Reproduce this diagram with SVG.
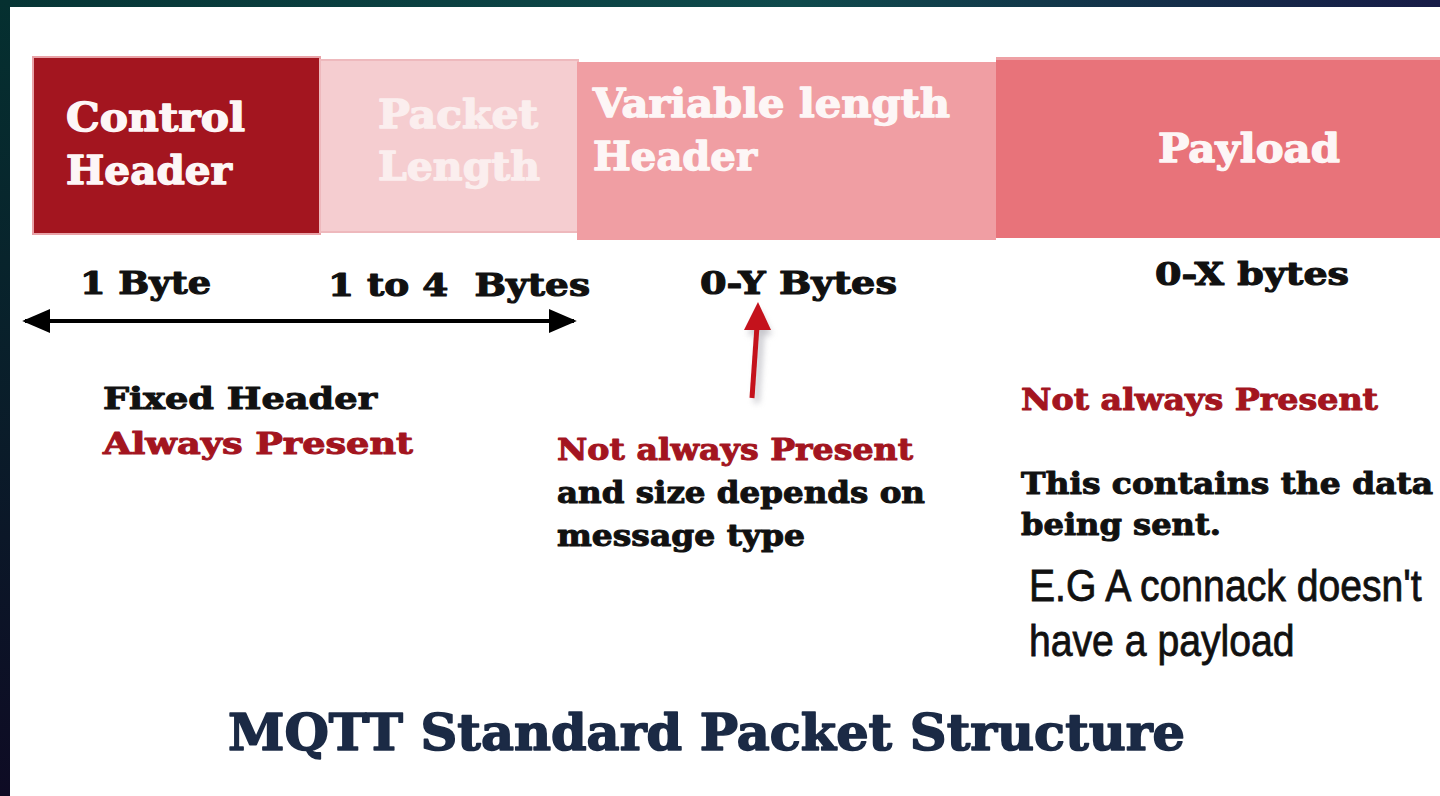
<svg xmlns="http://www.w3.org/2000/svg" width="1440" height="796" viewBox="0 0 1440 796">
  <defs>
    <linearGradient id="frameTop" x1="0" y1="0" x2="1" y2="0">
      <stop offset="0" stop-color="#063535"/>
      <stop offset="0.55" stop-color="#0f4a4c"/>
      <stop offset="1" stop-color="#171b47"/>
    </linearGradient>
    <linearGradient id="frameLeft" x1="0" y1="0" x2="0" y2="1">
      <stop offset="0" stop-color="#053030"/>
      <stop offset="1" stop-color="#0e0b24"/>
    </linearGradient>
    <marker id="headBlack" viewBox="0 0 20 20" refX="18" refY="10" markerWidth="7" markerHeight="6" markerUnits="strokeWidth" orient="auto-start-reverse" preserveAspectRatio="none">
      <path d="M0,0 L20,10 L0,20 Z" fill="#000"/>
    </marker>
    <filter id="softShadow" x="-50%" y="-20%" width="200%" height="140%">
      <feGaussianBlur stdDeviation="3"/>
    </filter>
    <style>
      .seg { stroke-width: 2; }
      .serif { font-family: "DejaVu Serif", "Liberation Serif", serif; font-weight: bold; stroke-linejoin: round; }
      .label { fill: #fdf6f6; stroke: #fdf6f6; stroke-width: 1.4px; font-size: 40px; }
      .faint { fill: #fbeeee; stroke: #fbeeee; }
      .size { fill: #111; stroke: #111; stroke-width: 1.1px; font-size: 31px; }
      .note { fill: #111; stroke: #111; stroke-width: 1px; font-size: 29px; }
      .warn { fill: #a3151f; stroke: #a3151f; }
      .plain { font-family: "Liberation Sans", Arial, sans-serif; fill: #111; stroke: #111; stroke-width: 0.8px; font-size: 44px; }
      .title { fill: #1b2a45; stroke: #1b2a45; stroke-width: 1.6px; font-size: 50px; }
    </style>
  </defs>

  <!-- slide background and frame -->
  <rect x="0" y="0" width="1440" height="796" fill="#ffffff"/>
  <rect x="0" y="0" width="1440" height="7" fill="url(#frameTop)"/>
  <rect x="0" y="0" width="10" height="796" fill="url(#frameLeft)"/>

  <!-- packet fields -->
  <g id="control-header">
    <rect class="seg" x="33" y="57" width="287" height="177" fill="#a3151f" stroke="#e9a3a8"/>
    <text class="serif label" x="66" y="131" textLength="179" lengthAdjust="spacingAndGlyphs">Control</text>
    <text class="serif label" x="66" y="184" textLength="166" lengthAdjust="spacingAndGlyphs">Header</text>
  </g>

  <g id="packet-length">
    <rect class="seg" x="320" y="60" width="258" height="172" fill="#f5cdd0" stroke="#eeb9bd"/>
    <text class="serif label faint" x="378" y="128" textLength="160" lengthAdjust="spacingAndGlyphs">Packet</text>
    <text class="serif label faint" x="378" y="180" textLength="162" lengthAdjust="spacingAndGlyphs">Length</text>
  </g>

  <g id="variable-header">
    <rect x="577" y="62" width="419" height="178" fill="#f09ea3"/>
    <text class="serif label" x="593" y="117" textLength="357" lengthAdjust="spacingAndGlyphs">Variable length</text>
    <text class="serif label" x="593" y="170" textLength="164" lengthAdjust="spacingAndGlyphs">Header</text>
  </g>

  <g id="payload">
    <rect x="996" y="57" width="444" height="181" fill="#e8737a"/>
    <rect x="996" y="57" width="444" height="3" fill="#eea0a4"/>
    <text class="serif label" x="1158" y="162" textLength="182" lengthAdjust="spacingAndGlyphs">Payload</text>
  </g>

  <!-- field sizes -->
  <g id="sizes">
    <text class="serif size" x="80" y="294" textLength="131" lengthAdjust="spacingAndGlyphs">1 Byte</text>
    <text class="serif size" x="328" y="296" textLength="262" lengthAdjust="spacingAndGlyphs" xml:space="preserve">1 to 4  Bytes</text>
    <text class="serif size" x="700" y="294" textLength="197" lengthAdjust="spacingAndGlyphs">0-Y Bytes</text>
    <text class="serif size" x="1155" y="285" textLength="194" lengthAdjust="spacingAndGlyphs">0-X bytes</text>
  </g>

  <!-- connectors -->
  <g id="connectors">
    <line x1="25" y1="321" x2="574" y2="321" stroke="#000" stroke-width="4" marker-start="url(#headBlack)" marker-end="url(#headBlack)"/>
    <g id="pointer">
      <path d="M759,309 L772,335 L764,335 L759,403 L754,403 L757,335 L748,335 Z" fill="#9a9aa4" opacity="0.55" filter="url(#softShadow)"/>
      <line x1="752" y1="398" x2="757" y2="326" stroke="#c4121c" stroke-width="5"/>
      <path d="M758,302 L771,330 L744,330 Z" fill="#c4121c"/>
    </g>
  </g>

  <!-- descriptions -->
  <g id="fixed-header-note">
    <text class="serif note" x="103" y="409" textLength="274" lengthAdjust="spacingAndGlyphs">Fixed Header</text>
    <text class="serif note warn" x="103" y="454" textLength="310" lengthAdjust="spacingAndGlyphs">Always Present</text>
  </g>

  <g id="variable-header-note">
    <text class="serif note warn" x="557" y="460" textLength="356" lengthAdjust="spacingAndGlyphs">Not always Present</text>
    <text class="serif note" x="557" y="503" textLength="368" lengthAdjust="spacingAndGlyphs">and size depends on</text>
    <text class="serif note" x="557" y="546" textLength="248" lengthAdjust="spacingAndGlyphs">message type</text>
  </g>

  <g id="payload-note">
    <text class="serif note warn" x="1021" y="410" textLength="357" lengthAdjust="spacingAndGlyphs">Not always Present</text>
    <text class="serif note" x="1021" y="494" textLength="412" lengthAdjust="spacingAndGlyphs">This contains the data</text>
    <text class="serif note" x="1021" y="535" textLength="200" lengthAdjust="spacingAndGlyphs">being sent.</text>
    <!-- narrow sans lines, condensed horizontally -->
    <g transform="translate(1029 0) scale(0.89 1)">
      <text class="plain" x="0" y="601">E.G A connack doesn't</text>
      <text class="plain" x="0" y="656">have a payload</text>
    </g>
  </g>

  <!-- caption -->
  <text class="serif title" x="228" y="750" textLength="957" lengthAdjust="spacingAndGlyphs">MQTT Standard Packet Structure</text>
</svg>
